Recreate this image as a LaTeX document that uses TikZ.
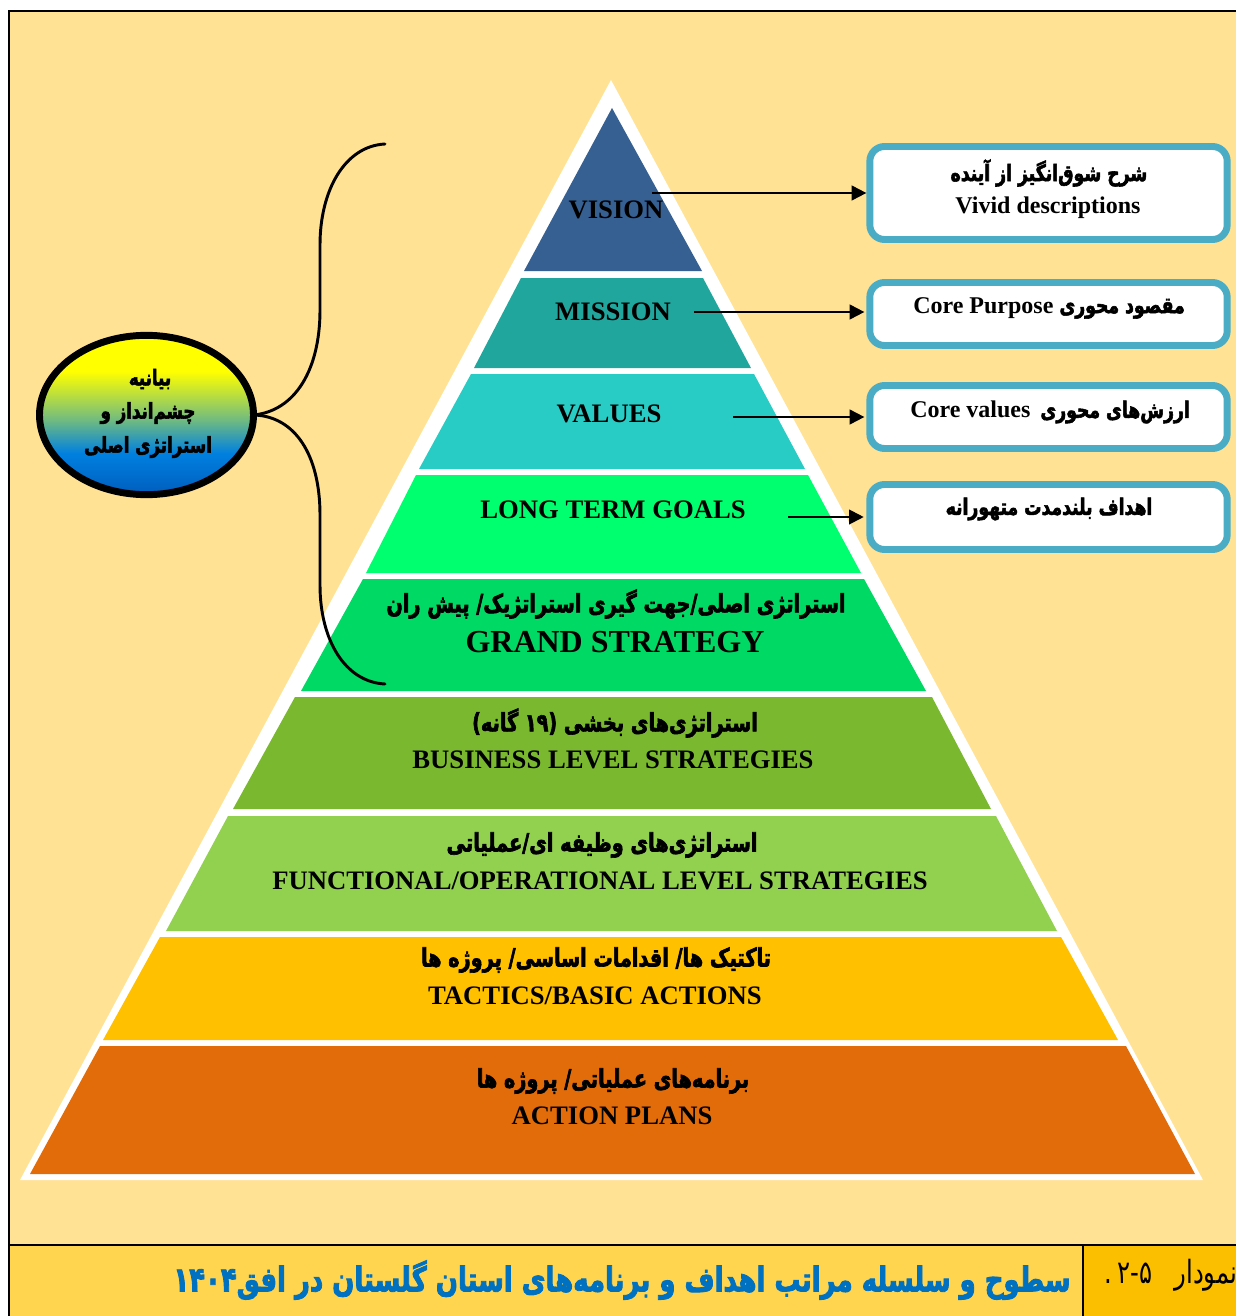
\documentclass[tikz,border=0pt]{standalone}
\usepackage{fontspec}
\usetikzlibrary{arrows.meta,shapes.geometric}
\TeXXeTstate=1
\setmainfont{Liberation Serif}
\newfontfamily\fa[Script=Arabic,FakeStretch=0.76,BoldFeatures={FakeStretch=0.76,FakeBold=2.4}]{DejaVu Sans}
\newcommand{\fas}[1]{\fontsize{#1}{#1}\selectfont\fa\bfseries}
\newcommand{\enb}[2]{{\fontsize{#1}{#1}\selectfont\bfseries #2}}
\definecolor{bgy}{HTML}{FFE294}
\definecolor{capy}{HTML}{FFD54F}
\definecolor{capo}{HTML}{FBBF00}
\definecolor{capb}{HTML}{0070C0}
\definecolor{boxb}{HTML}{4BACC6}
\definecolor{lvision}{HTML}{376092}
\definecolor{lmission}{HTML}{21A69E}
\definecolor{lvalues}{HTML}{29CCC4}
\definecolor{lgoals}{HTML}{00FF6E}
\definecolor{lgrand}{HTML}{00D964}
\definecolor{lbiz}{HTML}{7AB92F}
\definecolor{lfunc}{HTML}{92D050}
\definecolor{ltac}{HTML}{FFC000}
\definecolor{lact}{HTML}{E36C0A}
\definecolor{balla}{HTML}{0060C0}
\definecolor{ballb}{HTML}{0080E0}
\definecolor{ballc}{HTML}{70BB80}
\pgfdeclareverticalshading{ballshade}{100bp}{color(0bp)=(balla);color(26bp)=(balla);color(38bp)=(ballb);color(48.5bp)=(ballc);color(63.7bp)=(yellow);color(100bp)=(yellow)}
\tikzset{
  en/.style={inner sep=0pt,text=black},
  ar/.style={inner sep=0pt,text=black},
  infobox/.style={draw=boxb,line width=5.2pt,fill=white,rounded corners=11pt,minimum width=268pt,inner sep=0pt},
  link/.style={draw=black,line width=1.5pt,-{Triangle[length=11pt,width=11pt]}},
  brace/.style={draw=black,line width=2.2pt,line cap=round},
  rule/.style={draw=black,line width=2pt}
}
\begin{document}
\begin{tikzpicture}[x=0.75pt,y=-0.75pt]
\useasboundingbox (0,0) rectangle (1236,1316);
\begin{scope}
\clip (0,0) rectangle (1236,1316);
\fill[white] (0,0) rectangle (1236,1316);
\fill[bgy] (9,11) rectangle (1236,1245);
\fill[capy] (9,1245) rectangle (1083,1316);
\fill[capo] (1083,1245) rectangle (1236,1316);
\draw[rule] (9,1316) -- (9,11) -- (1236,11);
\draw[rule] (9,1245) -- (1236,1245);
\draw[draw=black,line width=1pt] (1083,1245) -- (1083,1316);
% pyramid
\fill[white] (611,80) -- (1203,1180) -- (20,1180) -- cycle;
\fill[lvision] (612,108) -- (702,271) -- (524,271) -- cycle;
\fill[lmission] (521,278) -- (703,278) -- (751,368) -- (474,368) -- cycle;
\fill[lvalues] (471,374) -- (754,374) -- (805,469) -- (419,469) -- cycle;
\fill[lgoals] (416,475) -- (808,475) -- (861,573) -- (366,573) -- cycle;
\fill[lgrand] (363,579) -- (864,579) -- (926,691) -- (301,691) -- cycle;
\fill[lbiz] (295,697) -- (932,697) -- (991,809) -- (233,809) -- cycle;
\fill[lfunc] (228,816) -- (996,816) -- (1057,931) -- (166,931) -- cycle;
\fill[ltac] (160,937) -- (1061,937) -- (1118,1040) -- (103,1040) -- cycle;
\fill[lact] (100,1046) -- (1126,1046) -- (1195,1174) -- (30,1174) -- cycle;
% level labels
\node[en] (tvision) at (616,210) {\enb{20pt}{VISION}};
\node[en] (tmission) at (613,312) {\enb{20pt}{MISSION}};
\node[en] (tvalues) at (609,414) {\enb{20pt}{VALUES}};
\node[en] (tgoals) at (613,510) {\enb{20pt}{LONG TERM GOALS}};
\node[ar] (agrand) at (616,604) {\fas{19pt}\beginR استراتژی اصلی/جهت گیری استراتژیک/ پیش ران\endR};
\node[en] (tgrand) at (615,642) {\enb{24pt}{GRAND STRATEGY}};
\node[ar] (abiz) at (615,723) {\fas{19pt}\beginR استراتژی‌های بخشی (۱۹ گانه)\endR};
\node[en] (tbiz) at (613,760) {\enb{20pt}{BUSINESS LEVEL STRATEGIES}};
\node[ar] (afunc) at (602,845) {\fas{19pt}\beginR استراتژی‌های وظیفه ای/عملیاتی\endR};
\node[en] (tfunc) at (600,881) {\enb{20pt}{FUNCTIONAL/OPERATIONAL LEVEL STRATEGIES}};
\node[ar] (atac) at (596,960) {\fas{19pt}\beginR تاکتیک ها/ اقدامات اساسی/ پروژه ها\endR};
\node[en] (ttac) at (595,996) {\enb{20pt}{TACTICS/BASIC ACTIONS}};
\node[ar] (aact) at (613,1081) {\fas{19pt}\beginR برنامه‌های عملیاتی/ پروژه ها\endR};
\node[en] (tact) at (612,1116) {\enb{20pt}{ACTION PLANS}};
% boxes
\node[infobox,minimum height=69.75pt] (b1) at (1048.5,193) {};
\node[infobox,minimum height=47.25pt] (b2) at (1048.5,314) {};
\node[infobox,minimum height=47.25pt] (b3) at (1048.5,417) {};
\node[infobox,minimum height=48.75pt] (b4) at (1048.5,517) {};
\node[ar] (a1) at (1049,173) {\fas{17pt}\beginR شرح شوق‌انگیز از آینده\endR};
\node[en] (t1) at (1048,208) {\enb{18pt}{Vivid descriptions}};
\node[ar] (t2) at (1049,308) {\enb{18pt}{Core Purpose}\hspace{2pt} {\fas{17pt}\beginR مقصود محوری\endR}};
\node[ar] (t3) at (1050,412) {\enb{18pt}{Core values}\hspace{5pt} {\fas{17pt}\beginR ارزش‌های محوری\endR}};
\node[ar] (a4) at (1049,509) {\fas{17pt}\beginR اهداف بلندمدت متهورانه\endR};
\coordinate (s1) at (652,193);
\coordinate (s2) at (694,312);
\coordinate (s3) at (733,417);
\coordinate (s4) at (788,517);
\draw[link] (s1) -- (s1-|b1.west);
\draw[link,shorten >=1.5pt] (s2) -- (s2-|b2.west);
\draw[link,shorten >=1.5pt] (s3) -- (s3-|b3.west);
\draw[link,shorten >=2pt] (s4) -- (s4-|b4.west);
% ellipse
\node[ellipse,draw=black,line width=5.2pt,minimum width=160.5pt,minimum height=119.5pt,inner sep=0pt,shading=ballshade,outer sep=0pt] (ball) at (146.5,415) {};
\node[ar] (e1) at (150,379) {\fas{16.4pt}\beginR بیانیه\endR};
\node[ar] (e2) at (148,413) {\fas{16.4pt}\beginR چشم‌انداز و\endR};
\node[ar] (e3) at (148,447) {\fas{16.4pt}\beginR استراتژی اصلی\endR};
% braces
\coordinate (bt) at (385,144);
\coordinate (bb) at (385,684);
\draw[brace] (bt) .. controls (345,146) and (320,190) .. (320,245) -- (320,310) .. controls (320,370) and (295,411) .. (ball.east);
\draw[brace] (bb) .. controls (345,682) and (320,640) .. (320,585) -- (320,515) .. controls (320,455) and (295,416) .. (ball.east);
% caption
\node[ar,text=capb] (cap) at (622,1280) {\fas{25.6pt}\beginR سطوح و سلسله مراتب اهداف و برنامه‌های استان گلستان در افق۱۴۰۴\endR};
\node[ar,anchor=west] (num) at (1104,1275) {\fontsize{24pt}{24pt}\selectfont\fa .\,۲-۵\,\hspace{7pt} \beginR نمودار\endR};
\end{scope}
\end{tikzpicture}
\end{document}
